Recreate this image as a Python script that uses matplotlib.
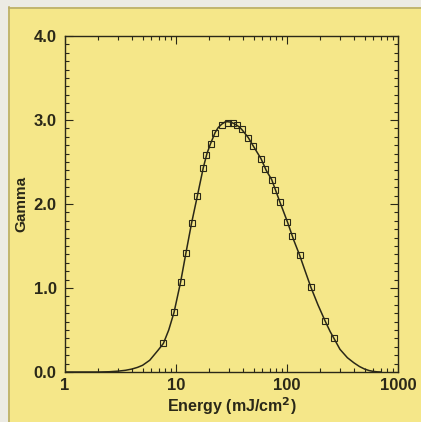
import numpy as np
import matplotlib.pyplot as plt
from matplotlib.patches import Rectangle
from matplotlib.lines import Line2D
from matplotlib.ticker import FixedLocator, NullFormatter

# measured points (squares)
energy_pts = [7.7, 9.6, 11.0, 12.3, 13.8, 15.6, 17.6, 18.8, 20.5, 22.5,
              25.8, 29.6, 32.8, 35.2, 39.1, 44.8, 49.7, 58.3, 63.4, 72.8,
              78.0, 86.5, 100.7, 111.6, 130, 164, 220, 265]
gamma_pts = [0.34, 0.71, 1.07, 1.42, 1.77, 2.10, 2.43, 2.58, 2.72, 2.85,
             2.94, 2.97, 2.96, 2.94, 2.89, 2.79, 2.69, 2.54, 2.42, 2.29,
             2.17, 2.02, 1.79, 1.62, 1.39, 1.01, 0.61, 0.40]

# fitted curve
energy_fit = [1.0, 2.0, 2.5, 3.0, 3.5, 4.0, 4.5, 5.0, 5.8, 6.9, 7.7, 8.6, 9.6,
              11.0, 12.3, 13.8, 15.6, 17.6, 19.0, 20.5, 22.5, 24.0, 25.8, 27.5,
              29.0, 31.0, 33.0, 36.0, 39.0, 44.8, 49.7, 58.3, 65.0, 72.8, 86.5,
              100.7, 115, 130, 145, 164, 190, 220, 245, 265, 300, 350, 400,
              450, 500, 550, 600, 650, 700]
gamma_fit = [0.0, 0.0, 0.003, 0.01, 0.02, 0.035, 0.055, 0.08, 0.14, 0.26, 0.34,
             0.50, 0.71, 1.07, 1.42, 1.77, 2.10, 2.43, 2.60, 2.72, 2.85, 2.91,
             2.95, 2.975, 2.98, 2.975, 2.96, 2.93, 2.89, 2.79, 2.69, 2.54,
             2.40, 2.29, 2.02, 1.79, 1.57, 1.39, 1.21, 1.01, 0.80, 0.61, 0.48,
             0.40, 0.27, 0.17, 0.11, 0.065, 0.035, 0.017, 0.007, 0.002, 0.0]

x_ticks = [1, 10, 100, 1000]
x_labels = ['1', '10', '100', '1000']
y_ticks = [0.0, 1.0, 2.0, 3.0, 4.0]
y_labels = ['0.0', '1.0', '2.0', '3.0', '4.0']

bg = '#f5e789'
ink = '#2a2818'
font = 'Liberation Sans'

fig = plt.figure(figsize=(4.21, 4.22), dpi=100, facecolor=bg)

# scan margins: white strip left and top
fig.patches.append(Rectangle((0, 0), 8 / 421, 1, transform=fig.transFigure,
                             facecolor='#ecebe4', edgecolor='none'))
fig.patches.append(Rectangle((0, 1 - 7 / 422), 1, 7 / 422, transform=fig.transFigure,
                             facecolor='#ecebe4', edgecolor='none'))
fig.lines.append(Line2D([9 / 421, 9 / 421], [0, 1 - 7 / 422], transform=fig.transFigure,
                        color='#b8ad6a', lw=1.2))
fig.lines.append(Line2D([9 / 421, 1], [1 - 7.5 / 422, 1 - 7.5 / 422], transform=fig.transFigure,
                        color='#b8ad6a', lw=1.2))

ax = fig.add_axes([65 / 421, 1 - 372 / 422, 333 / 421, 336 / 422])
ax.set_facecolor(bg)

ax.plot(energy_fit, gamma_fit, color=ink, lw=1.1)
ax.plot(energy_pts, gamma_pts, ls='none', marker='s', ms=4.2, mfc='none',
        mec=ink, mew=0.8)

ax.set_xscale('log')
ax.set_xlim(1, 1000)
ax.set_ylim(0, 4.0)

ax.xaxis.set_major_locator(FixedLocator(x_ticks))
ax.xaxis.set_minor_locator(FixedLocator([m * d for d in (1, 10, 100) for m in range(2, 10)]))
ax.xaxis.set_minor_formatter(NullFormatter())
ax.set_xticklabels(x_labels)
ax.yaxis.set_major_locator(FixedLocator(y_ticks))
ax.yaxis.set_minor_locator(FixedLocator([i / 10 for i in range(41)]))
ax.set_yticklabels(y_labels)

ax.tick_params(which='both', direction='in', top=True, right=True, color=ink, width=0.8)
ax.tick_params(which='major', length=6, labelsize=12, labelcolor=ink)
ax.tick_params(axis='x', which='major', pad=4)
ax.tick_params(axis='y', which='major', pad=6)
ax.tick_params(which='minor', length=3)
for lab in ax.get_xticklabels() + ax.get_yticklabels():
    lab.set_fontweight('bold')
    lab.set_family(font)

for s in ax.spines.values():
    s.set_color(ink)
    s.set_linewidth(1.0)

ax.set_xlabel('Energy (mJ/cm$^\\mathbf{2}$)', fontsize=11.5, fontweight='bold',
              family=font, color=ink, labelpad=2)
ax.set_ylabel('Gamma', fontsize=11, fontweight='bold', family=font,
              color=ink, labelpad=4)

fig.savefig('out.png', dpi=100, facecolor=bg)
